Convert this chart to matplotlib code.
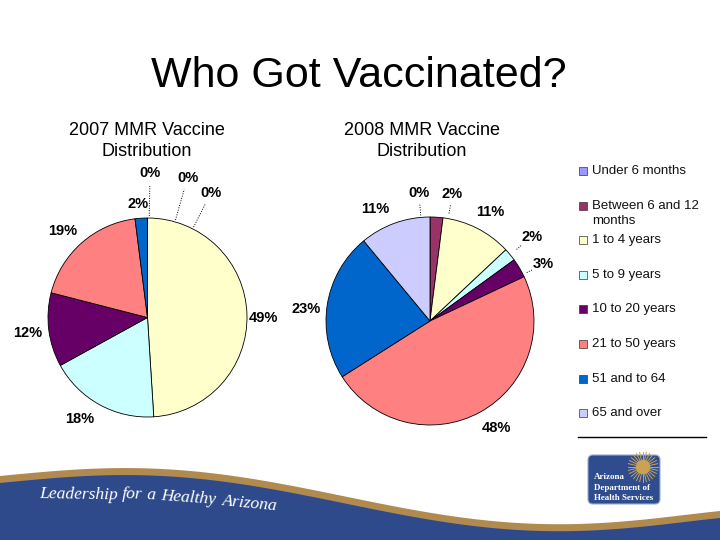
import numpy as np
import matplotlib
matplotlib.use('Agg')
import matplotlib.pyplot as plt
from matplotlib.patches import FancyBboxPatch, Circle, Rectangle

plt.rcParams['font.family'] = ['Liberation Sans', 'DejaVu Sans']

# ---------------- data ----------------
categories = ["Under 6 months", "Between 6 and 12\nmonths", "1 to 4 years", "5 to 9 years",
              "10 to 20 years", "21 to 50 years", "51 and to 64", "65 and over"]
values_2007 = [0, 0, 49, 18, 12, 19, 2, 0]
values_2008 = [0, 2, 11, 2, 3, 48, 23, 11]
colors = ["#9999FF", "#993366", "#FFFFCC", "#CCFFFF", "#660066", "#FF8080", "#0066CC", "#CCCCFF"]
title = "Who Got Vaccinated?"
subtitle_2007 = "2007 MMR Vaccine\nDistribution"
subtitle_2008 = "2008 MMR Vaccine\nDistribution"
banner_words = ["Leadership", "for", "a", "Healthy", "Arizona"]
logo_lines = ["Arizona", "Department of", "Health Services"]

# ---------------- layout / style ----------------
W, H = 720, 540
fig = plt.figure(figsize=(7.2, 5.4), dpi=100)
fig.patch.set_facecolor('white')

bg = fig.add_axes([0, 0, 1, 1])
bg.set_xlim(0, W)
bg.set_ylim(H, 0)
bg.axis('off')

# bottom banner wave (decoration)
wave_x = np.array([0, 110, 240, 300, 360, 480, 560, 640, 720])
wave_y = np.array([476, 468, 478, 486, 500, 520, 524, 520, 511])
coef = np.polyfit(wave_x / W, wave_y, 5)
xs = np.linspace(0, W, 400)
gold_top = np.polyval(coef, xs / W)
bg.fill_between(xs, gold_top, H, color='#B08A4F', lw=0)
bg.fill_between(xs, gold_top + 7, H, color='#2E4A8B', lw=0)

# banner slogan, word by word following the wave
word_pos = [(39, 498, -1), (122, 498.5, -2), (146, 499, -3), (160, 500, -4), (222, 505, -5.5)]
for wd, (x, y, rot) in zip(banner_words, word_pos):
    bg.text(x, y, wd, color='white', fontsize=12.6, style='italic',
            family=['Liberation Serif', 'DejaVu Serif'], ha='left', va='baseline',
            rotation=rot, rotation_mode='anchor')

# logo
bg.add_patch(FancyBboxPatch((588, 455), 72, 49, boxstyle="round,pad=0,rounding_size=5",
                            facecolor='#2E4C8E', edgecolor='#9AAAD0', lw=0.8))
sun_c = (643, 467)
for a in np.linspace(0, 2 * np.pi, 28, endpoint=False):
    bg.plot([sun_c[0] + 6 * np.cos(a), sun_c[0] + 15 * np.cos(a)],
            [sun_c[1] + 6 * np.sin(a), sun_c[1] + 15 * np.sin(a)], color='#C9A255', lw=0.7)
bg.add_patch(Circle(sun_c, 6.5, color='#C9A255'))
for j, line in enumerate(logo_lines):
    bg.text(594, 477 + j * 10.5, line, color='white', fontsize=6.5, fontweight='bold',
            family=['Liberation Serif', 'DejaVu Serif'], ha='left', va='center')

# titles
fig.text(359 / W, 1 - 87.5 / H, title, fontsize=31, ha='center', va='baseline')
fig.text(146.5 / W, 1 - 141 / H, subtitle_2007, fontsize=13, ha='center', va='center',
         multialignment='center', linespacing=1.3)
fig.text(421.5 / W, 1 - 141 / H, subtitle_2008, fontsize=13, ha='center', va='center',
         multialignment='center', linespacing=1.3)


def draw_pie(vals, cx, cy, r, label_style, leaders):
    L = 1.7
    ax = fig.add_axes([(cx - L * r) / W, (H - cy - L * r) / H, 2 * L * r / W, 2 * L * r / H])
    wedges, _ = ax.pie(vals, colors=colors, startangle=90, counterclock=False, radius=1,
                       wedgeprops=dict(edgecolor='black', linewidth=0.6))
    ax.set_xlim(-L, L)
    ax.set_ylim(-L, L)
    ax.set_aspect('equal')
    ax.axis('off')
    for i, (w, v) in enumerate(zip(wedges, vals)):
        d, off = label_style[i]
        ang = np.deg2rad((w.theta1 + w.theta2) / 2 + off)
        ax.text(d * np.cos(ang), d * np.sin(ang), f"{v}%", ha='center', va='center',
                fontsize=10.5, fontweight='bold')
        if i in leaders:
            r0, r1 = leaders[i]
            ax.plot([r0 * np.cos(ang), r1 * np.cos(ang)], [r0 * np.sin(ang), r1 * np.sin(ang)],
                    color='black', lw=0.7, ls=(0, (1, 1.5)))


style_2007 = [(1.45, -1), (1.46, -16), (1.17, -2), (1.23, -5), (1.21, 0), (1.22, 3), (1.14, 1), (1.40, -27)]
leaders_2007 = {0: (1.02, 1.33), 1: (1.02, 1.34), 7: (1.02, 1.28)}
style_2008 = [(1.24, 5), (1.24, -6.4), (1.2, -2), (1.27, 0), (1.22, -4), (1.21, 3), (1.2, 3.5), (1.2, 6)]
leaders_2008 = {0: (1.02, 1.13), 1: (1.05, 1.13), 3: (1.08, 1.15), 4: (1.04, 1.10)}

draw_pie(values_2007, 147.5, 317.5, 99.5, style_2007, leaders_2007)
draw_pie(values_2008, 430, 321, 104, style_2008, leaders_2008)

# legend
leg_y0, leg_dy = 171, 34.6
for i, (lab, c) in enumerate(zip(categories, colors)):
    y = leg_y0 + i * leg_dy
    bg.add_patch(Rectangle((578.5, y - 4), 8, 8, facecolor=c, edgecolor='#333333', lw=0.5))
    for j, line in enumerate(lab.split('\n')):
        bg.text(592, y + j * 15, line, fontsize=9.5, va='center', ha='left', color='#111111')
bg.plot([578, 706], [437, 437], color='black', lw=1)

fig.savefig('out.png', dpi=100, facecolor='white')
